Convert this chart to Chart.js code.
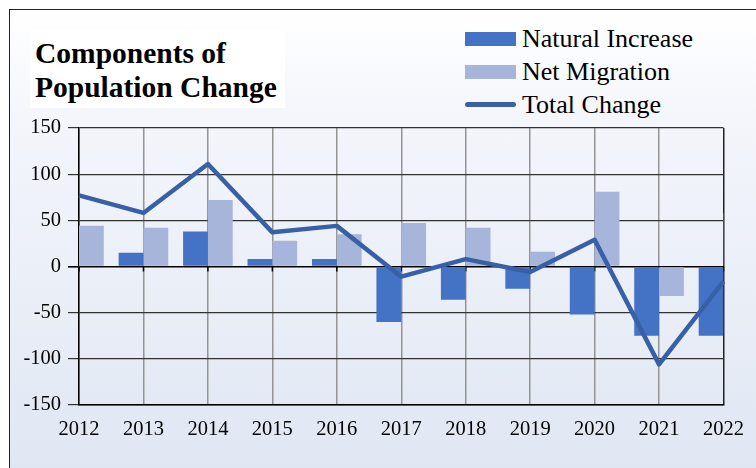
<!DOCTYPE html>
<html>
<head>
<meta charset="utf-8">
<script src="https://cdn.jsdelivr.net/npm/chart.js@4/dist/chart.umd.min.js"></script>
<style>
  html, body { margin: 0; padding: 0; background: #fff; }
  body { width: 756px; height: 468px; position: relative; overflow: hidden; font-family: "Liberation Serif", serif; }
  .frame {
    position: absolute; left: 9px; top: 9px; width: 800px; height: 520px;
    border: 1.5px solid #222;
    background: linear-gradient(to bottom, #ffffff 0px, #f3f5fb 120px, #e0e7f3 459px);
  }
  .title {
    position: absolute; left: 30px; top: 30px; width: 255px; height: 78px;
    background: #fff; box-sizing: border-box; padding: 6px 0 0 5px;
    font-family: "Liberation Serif"; font-weight: 700; font-size: 29.5px; line-height: 34px; color: #000;
  }
  #legend { position: absolute; left: 465px; top: 22px; }
  .lg-row { height: 33px; display: flex; align-items: center; font-size: 26px; color: #000; }
  .lg-sw { width: 51px; height: 14px; margin-right: 6px; }
  .lg-line { width: 51px; height: 4.5px; border-radius: 3px; margin-right: 6px; }
  canvas { position: absolute; left: 0; top: 0; }
</style>
</head>
<body>
<div class="frame"></div>
<div class="title">Components of<br>Population Change</div>
<div id="legend"></div>
<canvas id="chart" width="756" height="468"></canvas>
<script>
// ── Data ──
const years = ['2012','2013','2014','2015','2016','2017','2018','2019','2020','2021','2022'];
const naturalIncrease = [32, 15, 38, 8, 8, -60, -36, -24, -52, -75, -75];
const netMigration    = [44, 42, 72, 28, 35, 47, 42, 16, 81, -32, 58];
const totalChange     = [77, 58, 111, 37, 44, -11, 8, -6, 29, -106, -16];
const yTicks = [-150, -100, -50, 0, 50, 100, 150];

const colNatural = '#4472c4';
const colMigration = '#a8b5db';
const colTotal = '#3760a6';

// ── Small ticks on the zero line ──
const zeroTicks = {
  id: 'zeroTicks',
  beforeDatasetsDraw(chart) {
    const { ctx, scales: { x, y } } = chart;
    const y0 = y.getPixelForValue(0);
    ctx.save();
    ctx.strokeStyle = '#000';
    ctx.lineWidth = 1.5;
    x.ticks.forEach((t, i) => {
      const px = x.getPixelForTick(i);
      ctx.beginPath();
      ctx.moveTo(px, y0);
      ctx.lineTo(px, y0 + 5);
      ctx.stroke();
    });
    ctx.restore();
  }
};

// ── Chart ──
function initChart() {
  const ctx = document.getElementById('chart');

  new Chart(ctx, {
    type: 'bar',
    data: {
      labels: years,
      datasets: [
        {
          type: 'line',
          label: 'Total Change',
          data: totalChange,
          borderColor: colTotal,
          borderWidth: 4.5,
          pointRadius: 0,
          tension: 0,
          borderJoinStyle: 'round',
          order: 0
        },
        {
          label: 'Natural Increase',
          data: naturalIncrease,
          backgroundColor: colNatural,
          categoryPercentage: 0.77,
          barPercentage: 1,
          clip: 0,
          order: 1
        },
        {
          label: 'Net Migration',
          data: netMigration,
          backgroundColor: colMigration,
          categoryPercentage: 0.77,
          barPercentage: 1,
          clip: 0,
          order: 1
        }
      ]
    },
    options: {
      responsive: false,
      animation: false,
      layout: { padding: { top: 128, right: 26, left: 0, bottom: 0 } },
      plugins: {
        legend: { display: false },
        tooltip: { enabled: false }
      },
      scales: {
        x: {
          offset: false,
          grid: {
            offset: false,
            drawTicks: false,
            color: (c) => (c.index === years.length - 1 ? '#222' : '#949494'),
            lineWidth: 1.5
          },
          border: { color: '#000', width: 1.5 },
          ticks: {
            padding: 12,
            maxRotation: 0,
            autoSkip: false,
            color: '#000',
            font: { family: '"Liberation Serif", serif', size: 20.5 }
          },
          afterFit: (s) => { s.height = 63; }
        },
        y: {
          min: -150,
          max: 150,
          afterBuildTicks: (s) => { s.ticks = yTicks.map(v => ({ value: v })); },
          grid: {
            color: (c) => (c.tick && c.tick.value === 0 ? '#000' : '#333'),
            lineWidth: (c) => (c.tick && c.tick.value === 0 ? 1.6 : 1.2),
            tickLength: 11
          },
          border: { color: '#000', width: 1.5 },
          ticks: {
            padding: 7,
            color: '#000',
            font: { family: '"Liberation Serif", serif', size: 20.5 }
          },
          afterFit: (s) => { s.width = 79; }
        }
      }
    },
    plugins: [zeroTicks]
  });
}

// ── Legend ──
function renderLegend() {
  const el = document.getElementById('legend');
  const items = [
    { label: 'Natural Increase', color: colNatural, kind: 'box' },
    { label: 'Net Migration', color: colMigration, kind: 'box' },
    { label: 'Total Change', color: colTotal, kind: 'line' }
  ];
  items.forEach(it => {
    const row = document.createElement('div');
    row.className = 'lg-row';
    row.innerHTML = `<span class="${it.kind === 'box' ? 'lg-sw' : 'lg-line'}" style="background:${it.color}"></span><span>${it.label}</span>`;
    el.appendChild(row);
  });
}

renderLegend();
initChart();
</script>
</body>
</html>
